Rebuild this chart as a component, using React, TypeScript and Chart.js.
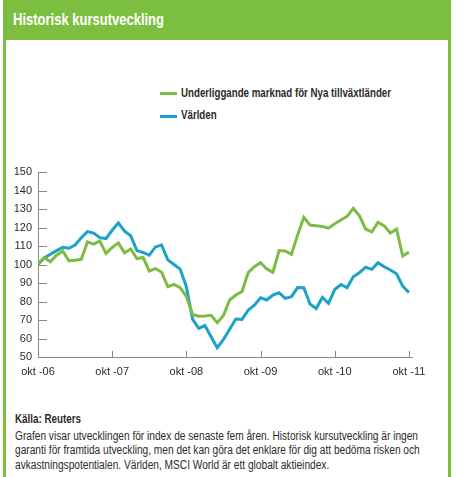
import React, { useEffect, useRef } from 'react';
import { Chart, registerables } from 'chart.js';

Chart.register(...registerables);

const title = 'Historisk kursutveckling';
const seriesNames = ['Underliggande marknad för Nya tillväxtländer', 'Världen'];
const tickLabels = ['okt -06', 'okt -07', 'okt -08', 'okt -09', 'okt -10', 'okt -11'];
const yTickValues = [50, 60, 70, 80, 90, 100, 110, 120, 130, 140, 150];
const monthsPerTick = 12;

// Monthly index values, okt -06 .. okt -11
const emergingValues = [
  100, 103.8, 101.5, 105, 107.3, 102, 102.3, 102.8, 112.2, 111, 112.7, 106,
  109.2, 111.7, 106.3, 108.4, 103.2, 103.8, 96.5, 97.8, 95.8, 88, 89.2, 87.5,
  82.8, 73, 72, 72.2, 72.5, 68.5, 72.5, 80.8, 83.5, 85.3, 95.6, 98.8,
  101, 97.6, 95.8, 107.5, 107.3, 105.5, 116, 125.5, 121.3, 120.9, 120.5, 119.6,
  122, 124.1, 126, 130.3, 126.3, 119.1, 117.6, 122.8, 120.9, 117, 119.1, 104.6,
  106.8,
];
const worldValues = [
  100, 103.5, 105.5, 107.5, 109.3, 108.8, 110.5, 114.5, 117.8, 117, 114.5, 114,
  118.5, 122.5, 118, 115.5, 107.5, 106.5, 105, 109.5, 110.5, 102.5, 100, 97.5,
  88, 70.5, 65.5, 67, 61, 55, 59.5, 65, 70.5, 70.3, 75.3, 78,
  82, 80.8, 83.5, 84.7, 81.7, 82.6, 87.5, 87.4, 78.6, 76.2, 82.2, 79,
  86.5, 89.2, 87.4, 93.4, 95.6, 98.5, 97.4, 101, 98.8, 97, 95, 88.3,
  84.9,
];

const sourceLabel = 'Källa: Reuters';
const footnoteLines = [
  'Grafen visar utvecklingen för index de senaste fem åren. Historisk kursutveckling är ingen',
  'garanti för framtida utveckling, men det kan göra det enklare för dig att bedöma risken och',
  'avkastningspotentialen. Världen, MSCI World är ett globalt aktieindex.',
];

const HEADER_GREEN = '#7cbf40';
const LINE_GREEN = '#7dbb45';
const LINE_BLUE = '#1ba3c7';
const AXIS = '#8a8a8a';
const TEXT = '#2b2b2b';
const FAMILY = '"Liberation Sans", Arial, sans-serif';

function measureText(text: string, weight: number, size: number) {
  const ctx = document.createElement('canvas').getContext('2d');
  if (!ctx) return text.length * size * 0.5;
  ctx.font = `${weight} ${size}px ${FAMILY}`;
  return ctx.measureText(text).width;
}

function Narrow(props: { text: string; weight: number; size: number; scale: number; color?: string }) {
  const { text, weight, size, scale, color } = props;
  return (
    <div
      style={{
        display: 'block',
        whiteSpace: 'nowrap',
        fontFamily: FAMILY,
        fontWeight: weight,
        fontSize: size,
        lineHeight: `${size}px`,
        color: color ?? TEXT,
        transform: `scaleX(${scale})`,
        transformOrigin: 'left center',
      }}
    >
      {text}
    </div>
  );
}

const inwardTicks = {
  id: 'inwardTicks',
  beforeDatasetsDraw(chart: any) {
    const { ctx, chartArea, scales } = chart;
    const x = scales.x;
    const y = scales.y;
    ctx.save();
    ctx.strokeStyle = AXIS;
    ctx.lineWidth = 1;
    y.ticks.forEach((t: any) => {
      const py = Math.round(y.getPixelForValue(t.value)) + 0.5;
      ctx.beginPath();
      ctx.moveTo(chartArea.left, py);
      ctx.lineTo(chartArea.left + 9, py);
      ctx.stroke();
    });
    x.ticks.forEach((t: any) => {
      const px = Math.round(x.getPixelForValue(t.value)) + 0.5;
      ctx.beginPath();
      ctx.moveTo(px, chartArea.bottom);
      ctx.lineTo(px, chartArea.bottom - 6);
      ctx.stroke();
    });
    ctx.restore();
  },
};

function LineChart() {
  const ref = useRef<HTMLCanvasElement | null>(null);
  useEffect(() => {
    if (!ref.current) return;
    const chart = new Chart(ref.current, {
      type: 'line',
      data: {
        datasets: [
          {
            label: seriesNames[0],
            data: emergingValues.map((v, i) => ({ x: i, y: v })),
            borderColor: LINE_GREEN,
            backgroundColor: LINE_GREEN,
            borderWidth: 3,
            pointRadius: 0,
            tension: 0,
          },
          {
            label: seriesNames[1],
            data: worldValues.map((v, i) => ({ x: i, y: v })),
            borderColor: LINE_BLUE,
            backgroundColor: LINE_BLUE,
            borderWidth: 3,
            pointRadius: 0,
            tension: 0,
          },
        ],
      },
      options: {
        animation: false,
        responsive: false,
        layout: { padding: { top: 22, right: 28, bottom: 0, left: 0 } },
        plugins: { legend: { display: false }, tooltip: { enabled: false } },
        scales: {
          x: {
            type: 'linear',
            min: 0,
            max: 60.5,
            grid: { display: true, drawOnChartArea: false, drawTicks: false },
            border: { display: true, color: AXIS, width: 1 },
            afterBuildTicks: (s: any) => {
              s.ticks = tickLabels.map((_, i) => ({ value: i * monthsPerTick }));
            },
            afterFit: (s: any) => {
              s.height = 33;
            },
            ticks: {
              padding: 8,
              maxRotation: 0,
              autoSkip: false,
              color: TEXT,
              font: { family: FAMILY, size: 11 },
              callback: (v: any) => tickLabels[Math.round(Number(v) / monthsPerTick)] ?? '',
            },
          },
          y: {
            type: 'linear',
            min: 50,
            max: 150,
            grid: { display: true, drawOnChartArea: false, drawTicks: false },
            border: { display: true, color: AXIS, width: 1 },
            afterBuildTicks: (s: any) => {
              s.ticks = yTickValues.map((v) => ({ value: v }));
            },
            afterFit: (s: any) => {
              s.width = 38;
            },
            ticks: {
              padding: 6,
              color: TEXT,
              font: { family: FAMILY, size: 11 },
            },
          },
        },
      },
      plugins: [inwardTicks],
    });
    return () => chart.destroy();
  }, []);
  return <canvas ref={ref} width={440} height={240} style={{ display: 'block' }} />;
}

export default function App() {
  const legendColors = [LINE_GREEN, LINE_BLUE];
  const legendTops = [86.5, 109];
  const titleScale = 151 / measureText(title, 700, 16);
  const legendScale = 210 / measureText(seriesNames[0], 700, 12);
  const sourceScale = 66 / measureText(sourceLabel, 700, 12);
  const noteScale = 403 / measureText(footnoteLines[0], 400, 12);
  return (
    <div
      style={{
        position: 'absolute',
        left: 0,
        top: 0,
        width: 464,
        height: 477,
        background: '#fff',
        overflow: 'hidden',
        fontFamily: FAMILY,
        color: TEXT,
      }}
    >
      <div
        style={{
          position: 'absolute',
          left: 3,
          top: 0,
          width: 448,
          height: 477,
          boxSizing: 'border-box',
          borderLeft: `3px solid ${HEADER_GREEN}`,
          borderRight: `3px solid ${HEADER_GREEN}`,
        }}
      />
      <div style={{ position: 'absolute', left: 3, top: 0, width: 448, height: 40, background: HEADER_GREEN }}>
        <div style={{ position: 'absolute', left: 10, top: 11.5, width: 300 }}>
          <Narrow text={title} weight={700} size={16} scale={titleScale} color="#fff" />
        </div>
      </div>
      {seriesNames.map((name, i) => (
        <div key={name} style={{ position: 'absolute', left: 160, top: legendTops[i], width: 280, height: 12 }}>
          <div
            style={{
              position: 'absolute',
              left: 0,
              top: 5.5,
              width: 17,
              height: 3,
              background: legendColors[i],
            }}
          />
          <div style={{ position: 'absolute', left: 21, top: 0, width: 259 }}>
            <Narrow text={name} weight={700} size={12} scale={legendScale} />
          </div>
        </div>
      ))}
      <div style={{ position: 'absolute', left: 0, top: 150, width: 440, height: 240 }}>
        <LineChart />
      </div>
      <div style={{ position: 'absolute', left: 15, top: 412.5, width: 430 }}>
        <Narrow text={sourceLabel} weight={700} size={12} scale={sourceScale} />
      </div>
      {footnoteLines.map((l, i) => (
        <div key={l} style={{ position: 'absolute', left: 15, top: 429.5 + i * 14.7, width: 430 }}>
          <Narrow text={l} weight={400} size={12} scale={noteScale} />
        </div>
      ))}
    </div>
  );
}
